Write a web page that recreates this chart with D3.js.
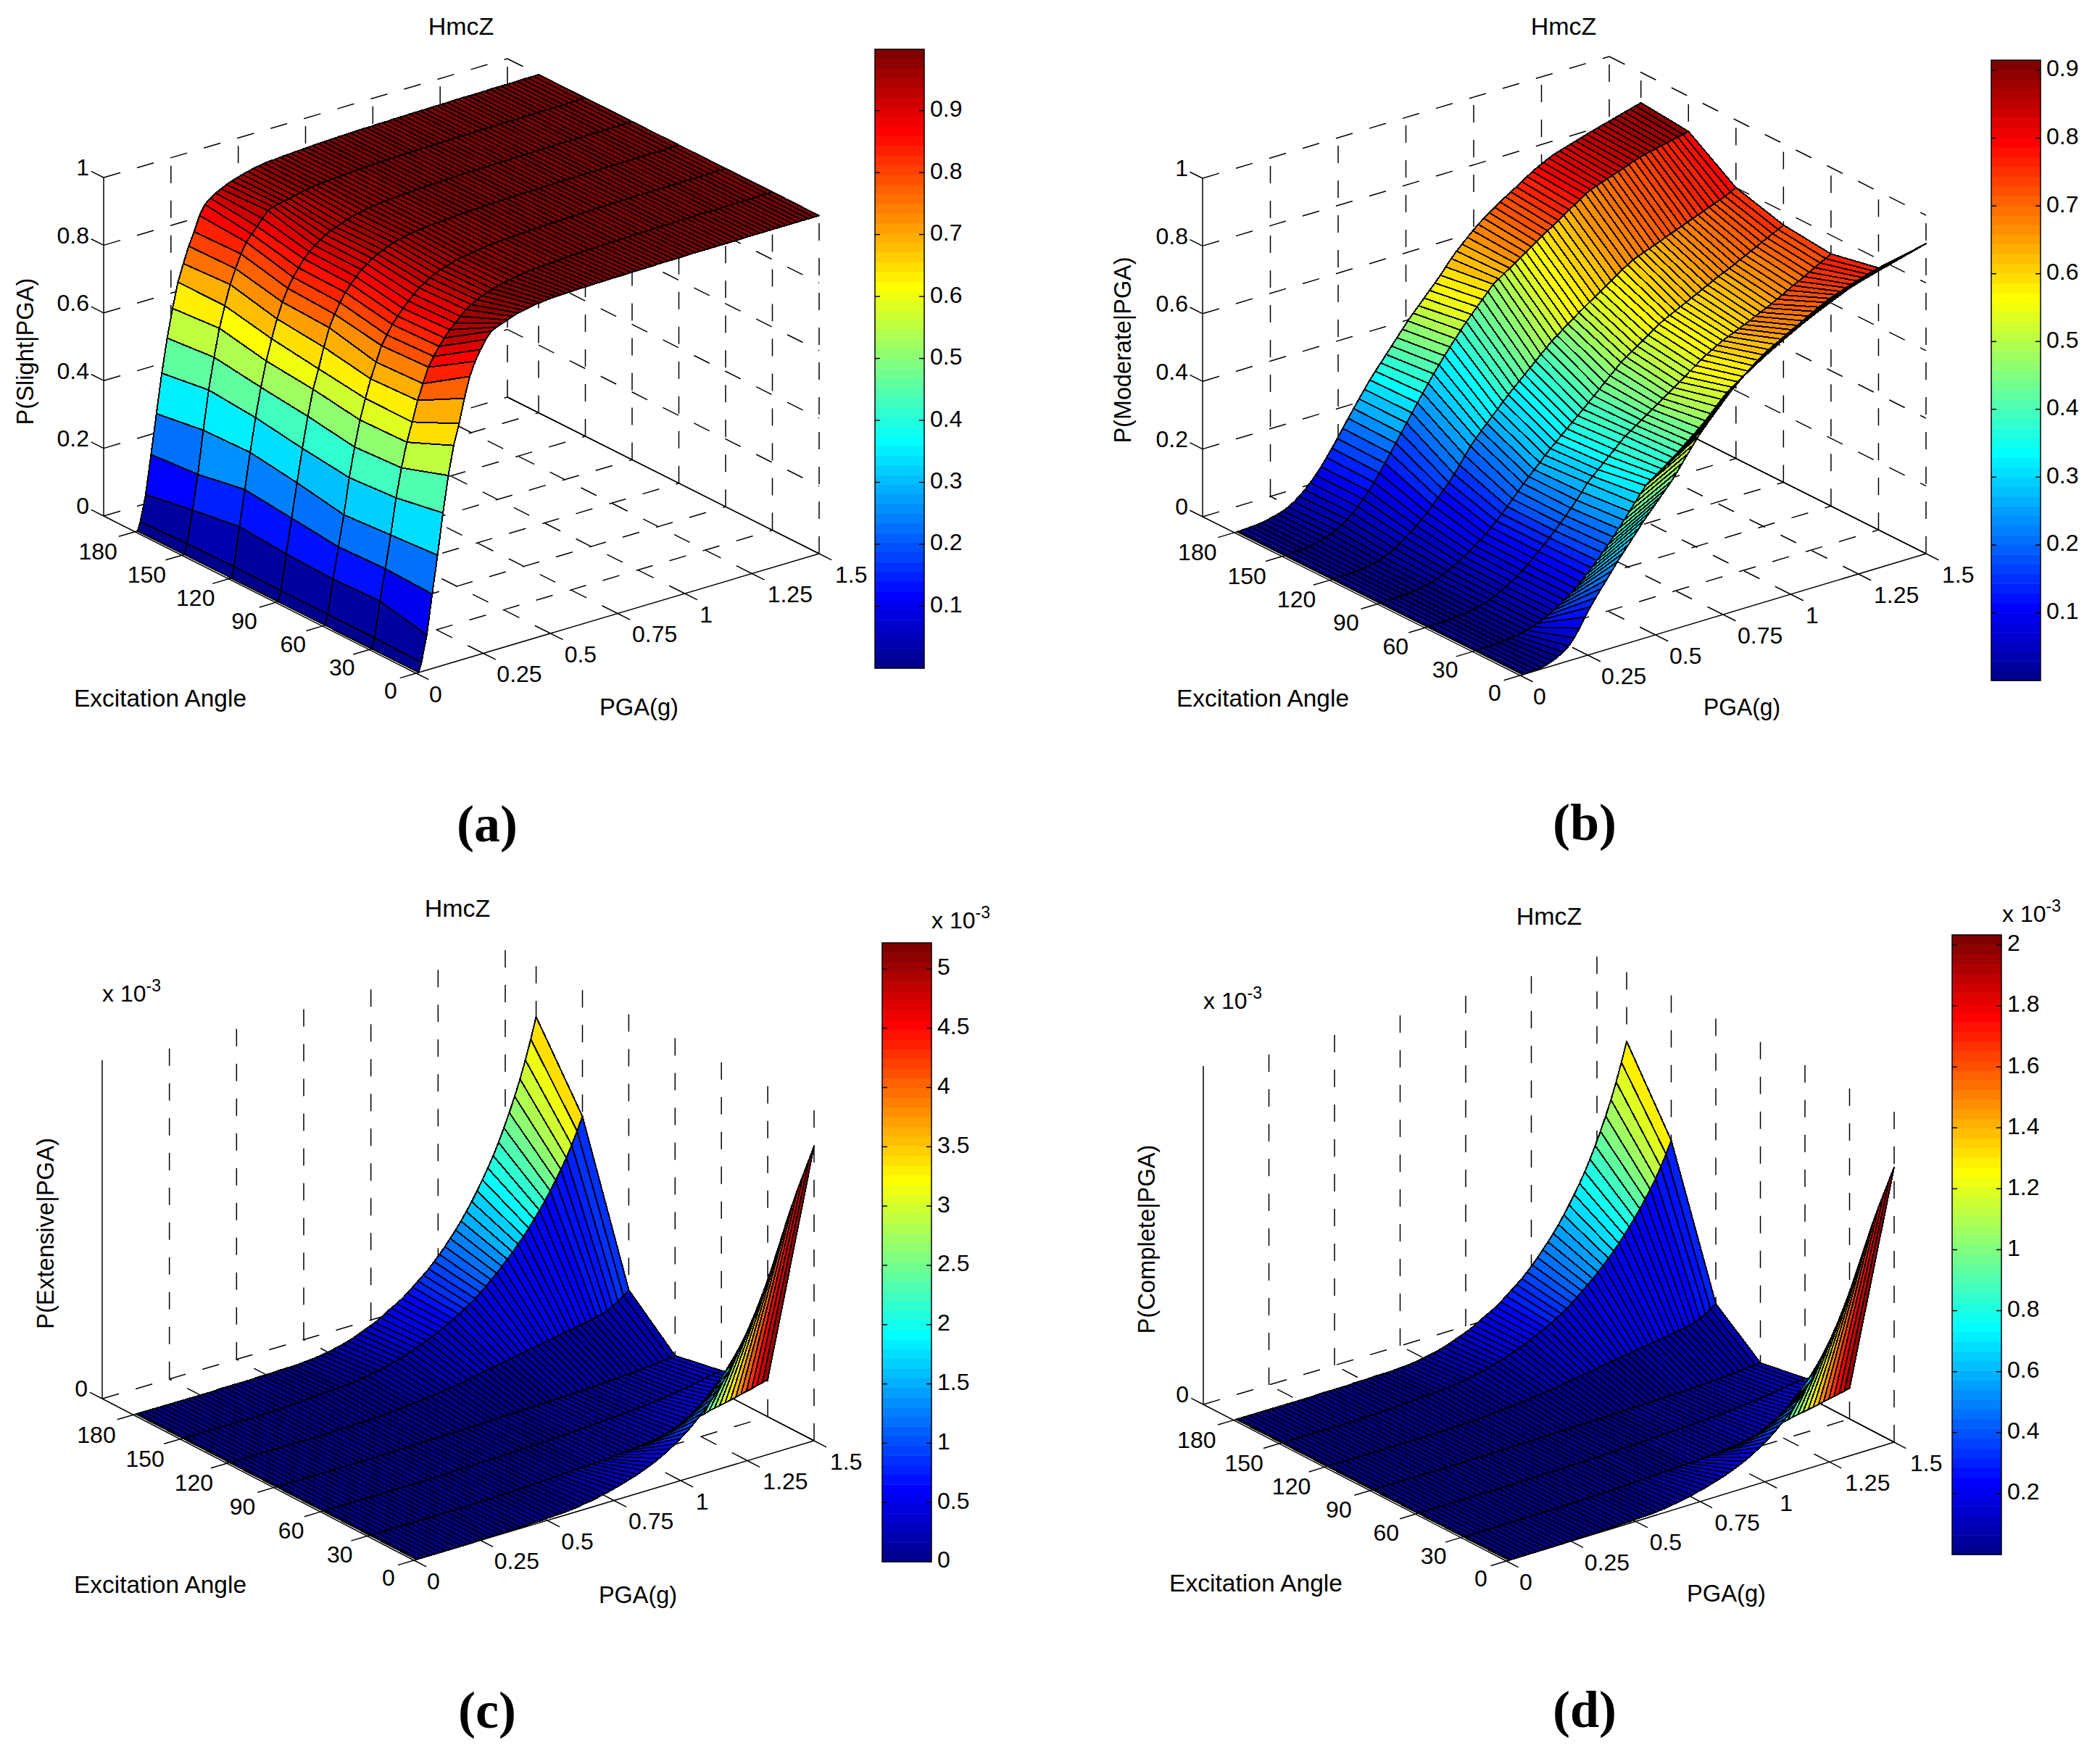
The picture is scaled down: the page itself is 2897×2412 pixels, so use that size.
<!DOCTYPE html>
<html>
<head>
<meta charset="utf-8">
<script src="https://cdn.jsdelivr.net/npm/d3@7"></script>
<style>
body { margin: 0; background: #fff; }
text { font-family: "Liberation Sans", Arial, sans-serif; fill: #000; }
</style>
</head>
<body>
<div id="chart"></div>
<script>
'use strict';

// grid of the surfaces
const pga = [0.01,0.02,0.04,0.06,0.08,0.1,0.12,0.14,0.16,0.18,
    0.2,0.22,0.24,0.26,0.28,0.3,0.32,0.34,0.36,0.38,
    0.4,0.42,0.44,0.46,0.48,0.5,0.52,0.54,0.56,0.58,
    0.6,0.62,0.64,0.66,0.68,0.7,0.72,0.74,0.76,0.78,
    0.8,0.82,0.84,0.86,0.88,0.9,0.92,0.94,0.96,0.98,
    1,1.02,1.04,1.06,1.08,1.1,1.12,1.14,1.16,1.18,
    1.2,1.22,1.24,1.26,1.28,1.3,1.32,1.34,1.36,1.38,
    1.4,1.42,1.44,1.46,1.48,1.5];
const angles = [0,30,60,90,120,150,180];

const pgaTicks = [0,0.25,0.5,0.75,1,1.25,1.5];
const angleTicks = [0,30,60,90,120,150,180];
const probTicks = [0,0.2,0.4,0.6,0.8,1];
const zeroTick = [0];

const barTicksSlight = [0.1,0.2,0.3,0.4,0.5,0.6,0.7,0.8,0.9];
const barTicksModerate = [0.1,0.2,0.3,0.4,0.5,0.6,0.7,0.8,0.9];
const barTicksExtensive = [0,0.5,1,1.5,2,2.5,3,3.5,4,4.5,5];
const barTicksComplete = [0.2,0.4,0.6,0.8,1,1.2,1.4,1.6,1.8,2];

// P(Slight|PGA), one list per excitation angle
const slight0 = [0,.027,.104,.22,.33,.45,.556,.64,.70,.77,.83,.87,.90,.925,.945,.952,.958,.964,.97,.975,.978,.981,.985,.986,.988,.99,
    .991,.991,.992,.992,.993,.993,.993,.994,.994,.994,.995,.995,.995,.995,.996,.996,.996,.996,.996,.997,.997,.997,.997,.997,
    .997,.998,.998,.998,.998,.998,.998,.998,.998,.998,.998,.999,.999,.999,.999,.999,.999,.999,.999,.999,.999,.999,.999,.999,.999,.999];
const slight1 = [0,.03,.134,.225,.32,.425,.509,.58,.635,.694,.739,.783,.81,.835,.855,.875,.89,.905,.92,.93,.94,.947,.953,.958,.963,.967,
    .97,.973,.975,.978,.98,.981,.982,.983,.984,.985,.986,.987,.988,.988,.989,.99,.99,.991,.991,.992,.992,.993,.993,.993,
    .994,.994,.994,.995,.995,.995,.995,.996,.996,.996,.996,.997,.997,.997,.997,.997,.997,.998,.998,.998,.998,.998,.998,.999,.999,.999];
const slight2 = [0,.03,.129,.22,.31,.415,.501,.576,.635,.688,.733,.777,.804,.83,.85,.868,.885,.90,.915,.925,.935,.943,.95,.955,.96,.965,
    .968,.97,.973,.975,.978,.98,.981,.982,.983,.984,.985,.986,.987,.988,.988,.989,.99,.99,.991,.991,.992,.992,.993,.993,
    .993,.994,.994,.995,.995,.995,.995,.996,.996,.996,.996,.997,.997,.997,.997,.997,.997,.998,.998,.998,.998,.998,.998,.999,.999,.999];
const slight3 = [0,.03,.134,.235,.335,.432,.522,.597,.653,.712,.765,.80,.83,.855,.875,.892,.908,.92,.932,.94,.948,.954,.96,.964,.968,.972,
    .974,.976,.978,.98,.981,.982,.983,.984,.985,.986,.987,.988,.988,.989,.99,.99,.991,.991,.992,.992,.992,.993,.993,.993,
    .994,.994,.994,.995,.995,.995,.995,.996,.996,.996,.996,.997,.997,.997,.997,.997,.997,.998,.998,.998,.998,.998,.998,.999,.999,.999];
const slight4 = [0,.032,.145,.25,.355,.453,.538,.611,.672,.726,.771,.807,.835,.858,.88,.896,.91,.922,.932,.94,.945,.952,.958,.963,.967,.971,
    .974,.976,.978,.98,.981,.982,.983,.984,.985,.986,.987,.988,.988,.989,.99,.99,.991,.991,.992,.992,.992,.993,.993,.993,
    .994,.994,.994,.995,.995,.995,.995,.996,.996,.996,.996,.997,.997,.997,.997,.997,.997,.998,.998,.998,.998,.998,.998,.999,.999,.999];
const slight5 = [0,.03,.124,.225,.351,.465,.557,.638,.70,.758,.80,.839,.869,.888,.906,.925,.944,.95,.954,.957,.96,.964,.968,.971,.974,.976,
    .978,.98,.981,.982,.983,.984,.985,.986,.987,.988,.988,.989,.99,.99,.991,.991,.992,.992,.992,.993,.993,.993,.994,.994,
    .994,.995,.995,.995,.995,.996,.996,.996,.996,.997,.997,.997,.997,.997,.997,.997,.998,.998,.998,.998,.998,.998,.999,.999,.999,.999];
const slight6 = [0,.025,.10,.214,.33,.445,.544,.627,.70,.75,.797,.835,.878,.906,.92,.93,.938,.946,.952,.957,.962,.966,.97,.973,.976,.978,
    .978,.98,.981,.982,.983,.984,.985,.986,.987,.988,.988,.989,.99,.99,.991,.991,.992,.992,.992,.993,.993,.993,.994,.994,
    .994,.995,.995,.995,.995,.996,.996,.996,.996,.997,.997,.997,.997,.997,.997,.997,.998,.998,.998,.998,.998,.998,.999,.999,.999,.999];

// P(Moderate|PGA)
const moderate0 = [0,0,.001,.002,.004,.008,.014,.022,.031,.044,.063,.087,.115,.14,.163,.185,.206,.228,.25,.27,
    .29,.31,.33,.35,.368,.386,.404,.422,.44,.462,.484,.506,.528,.55,.568,.586,.603,.62,.637,.654,
    .67,.683,.696,.709,.722,.733,.743,.752,.76,.768,.776,.783,.79,.797,.804,.811,.818,.825,.832,.839,
    .846,.853,.86,.864,.868,.872,.877,.881,.885,.89,.894,.899,.903,.907,.912,.916];
const moderate1 = [0,0,.001,.001,.002,.003,.004,.006,.008,.011,.015,.02,.026,.033,.041,.05,.06,.071,.083,.096,
    .11,.126,.142,.159,.177,.195,.214,.234,.254,.275,.296,.317,.337,.349,.361,.372,.384,.396,.408,.42,
    .431,.443,.459,.476,.492,.509,.525,.54,.551,.562,.573,.584,.595,.606,.617,.628,.639,.65,.659,.668,
    .676,.685,.694,.703,.711,.72,.727,.733,.738,.744,.749,.755,.76,.765,.77,.774];
const moderate2 = [0,0,.001,.001,.002,.003,.004,.006,.008,.011,.015,.02,.026,.033,.041,.05,.06,.071,.083,.096,
    .11,.125,.14,.156,.172,.189,.206,.224,.243,.262,.284,.299,.314,.329,.344,.359,.374,.389,.4,.411,
    .422,.433,.444,.455,.466,.478,.489,.501,.512,.524,.535,.547,.558,.567,.576,.585,.592,.599,.606,.613,
    .62,.628,.635,.643,.65,.659,.667,.676,.685,.693,.702,.71,.719,.728,.736,.745];
const moderate3 = [0,0,.001,.001,.002,.003,.004,.006,.009,.012,.016,.022,.028,.036,.044,.053,.063,.074,.086,.098,
    .111,.125,.14,.156,.173,.19,.208,.226,.242,.258,.274,.291,.306,.32,.335,.35,.364,.379,.393,.408,
    .423,.438,.453,.468,.483,.498,.509,.521,.532,.543,.555,.566,.577,.586,.594,.602,.61,.618,.626,.634,
    .642,.65,.658,.666,.673,.68,.688,.696,.704,.712,.72,.728,.736,.744,.752,.76];
const moderate4 = [0,0,.001,.001,.002,.003,.005,.007,.01,.014,.02,.027,.036,.047,.059,.07,.084,.098,.113,.13,
    .148,.165,.183,.203,.225,.248,.271,.29,.307,.324,.34,.357,.374,.39,.405,.42,.435,.45,.465,.48,
    .495,.51,.522,.534,.546,.558,.57,.581,.592,.603,.614,.625,.636,.647,.658,.668,.678,.684,.691,.697,
    .703,.709,.716,.722,.728,.734,.741,.747,.753,.759,.766,.772,.778,.784,.792,.80];
const moderate5 = [0,0,.001,.002,.003,.005,.008,.012,.017,.023,.03,.04,.052,.065,.08,.097,.116,.137,.16,.184,
    .209,.234,.259,.284,.309,.334,.358,.382,.405,.427,.449,.47,.49,.51,.53,.547,.565,.582,.60,.617,
    .628,.639,.65,.661,.672,.683,.694,.705,.716,.727,.737,.748,.759,.77,.78,.791,.802,.81,.816,.822,
    .828,.833,.839,.845,.851,.857,.862,.867,.87,.874,.878,.881,.885,.889,.892,.896];
const moderate6 = [0,0,.001,.002,.003,.005,.008,.012,.016,.021,.028,.038,.05,.064,.08,.098,.118,.14,.163,.187,
    .212,.237,.261,.285,.308,.331,.352,.372,.392,.412,.432,.452,.472,.49,.507,.525,.543,.56,.578,.598,
    .618,.635,.651,.666,.681,.695,.708,.72,.731,.742,.752,.762,.772,.783,.793,.803,.812,.82,.828,.835,
    .84,.845,.85,.855,.86,.865,.87,.874,.879,.883,.888,.892,.897,.901,.906,.91];

// P(Extensive|PGA), in units of 1e-3
const extensive0 = [0,0,0,0,0,0,0,0,0,0,0,0,.01,.01,.01,.01,.01,.01,.02,.02,
    .02,.02,.03,.03,.03,.04,.04,.05,.05,.06,.07,.08,.10,.11,.13,.15,.17,.20,.22,.25,
    .28,.31,.34,.38,.42,.46,.51,.56,.62,.68,.75,.82,.90,.99,1.08,1.18,1.29,1.41,1.53,1.68,
    1.85,2.0,2.17,2.35,2.55,2.78,3.02,3.27,3.53,3.8,4.07,4.32,4.56,4.78,5.0,5.22];
const extensive1 = [0,0,0,0,0,0,0,0,0,0,0,0,0,0,0,0,0,0,0,0,
    .01,.01,.01,.01,.02,.02,.02,.02,.03,.03,.03,.04,.04,.05,.05,.06,.06,.07,.07,.08,
    .08,.08,.09,.09,.10,.10,.11,.12,.13,.14,.15,.16,.17,.18,.19,.20,.22,.24,.26,.28,
    .31,.33,.36,.38,.41,.43,.45,.47,.49,.51,.54,.56,.58,.61,.63,.66];
const extensive2 = [0,0,0,0,0,0,0,0,0,0,0,0,0,0,0,0,0,0,0,0,
    .01,.01,.01,.01,.01,.02,.02,.02,.02,.02,.03,.03,.03,.03,.04,.04,.04,.05,.05,.05,
    .06,.06,.06,.07,.07,.08,.08,.09,.09,.10,.10,.11,.11,.12,.13,.13,.14,.15,.15,.16,
    .17,.18,.19,.20,.21,.22,.24,.25,.27,.28,.30,.32,.34,.36,.37,.39];
const extensive3 = [0,0,0,0,0,0,0,0,0,0,0,0,0,0,0,0,0,0,0,0,
    .01,.01,.01,.01,.01,.01,.01,.02,.02,.02,.02,.02,.03,.03,.03,.03,.04,.04,.04,.04,
    .05,.05,.05,.06,.06,.06,.06,.07,.07,.07,.08,.08,.08,.09,.09,.09,.10,.10,.10,.11,
    .11,.12,.12,.13,.13,.14,.15,.15,.16,.17,.18,.19,.20,.21,.22,.23];
const extensive4 = [0,0,0,0,0,0,0,0,0,0,0,0,0,0,0,0,0,0,0,0,
    .01,.01,.01,.01,.02,.02,.02,.03,.03,.03,.04,.05,.06,.07,.08,.09,.10,.11,.12,.13,
    .15,.16,.17,.19,.20,.22,.24,.26,.28,.30,.31,.33,.35,.37,.39,.41,.42,.44,.46,.48,
    .49,.51,.53,.55,.56,.58,.60,.62,.64,.66,.68,.71,.76,.82,.89,.97];
const extensive5 = [0,0,0,0,0,0,0,0,0,0,0,0,0,0,0,0,.01,.01,.01,.01,
    .02,.03,.03,.04,.05,.05,.06,.07,.07,.08,.08,.09,.10,.11,.13,.14,.16,.18,.20,.22,
    .25,.28,.31,.34,.38,.42,.46,.50,.55,.60,.65,.70,.76,.82,.88,.95,1.03,1.11,1.20,1.29,
    1.38,1.48,1.58,1.69,1.80,1.92,2.05,2.18,2.32,2.47,2.63,2.79,2.97,3.17,3.39,3.62];
const extensive6 = [0,0,0,0,0,0,0,0,0,0,0,0,0,0,0,0,.01,.01,.01,.01,
    .01,.01,.01,.02,.02,.02,.02,.03,.03,.03,.03,.04,.05,.055,.065,.08,.095,.115,.135,.16,
    .19,.22,.26,.30,.34,.38,.43,.49,.55,.60,.66,.73,.81,.89,.97,1.05,1.15,1.25,1.36,1.48,
    1.6,1.73,1.87,2.02,2.18,2.35,2.53,2.72,2.93,3.16,3.4,3.66,3.94,4.25,4.59,4.96];

// P(Complete|PGA), in units of 1e-3
const complete0 = [0,0,0,0,0,0,0,0,0,0,0,0,.004,.004,.004,.004,.004,.004,.008,.008,
    .008,.008,.012,.012,.012,.016,.016,.019,.019,.023,.027,.031,.039,.043,.051,.058,.066,.078,.086,.097,
    .109,.121,.132,.148,.163,.179,.198,.218,.241,.265,.292,.319,.35,.385,.42,.459,.502,.548,.595,.646,
    .72,.778,.844,.914,.992,1.081,1.175,1.272,1.373,1.478,1.583,1.68,1.774,1.859,1.945,2.03];
const complete1 = [0,0,0,0,0,0,0,0,0,0,0,0,0,0,0,0,0,0,0,0,
    .003,.003,.003,.003,.007,.007,.007,.007,.01,.01,.01,.014,.014,.017,.017,.021,.021,.024,.024,.028,
    .028,.028,.031,.031,.034,.034,.038,.041,.045,.048,.052,.055,.058,.062,.065,.069,.076,.083,.089,.096,
    .107,.114,.124,.131,.141,.148,.155,.162,.169,.175,.186,.193,.2,.21,.217,.227];
const complete2 = [0,0,0,0,0,0,0,0,0,0,0,0,0,0,0,0,0,0,0,0,
    .003,.003,.003,.003,.003,.007,.007,.007,.007,.007,.01,.01,.01,.01,.013,.013,.013,.017,.017,.017,
    .02,.02,.02,.023,.023,.026,.026,.03,.03,.033,.033,.036,.036,.04,.043,.043,.046,.05,.05,.053,
    .056,.059,.063,.066,.069,.073,.079,.083,.089,.092,.099,.106,.112,.119,.122,.129];
const complete3 = [0,0,0,0,0,0,0,0,0,0,0,0,0,0,0,0,0,0,0,0,
    .003,.003,.003,.003,.003,.003,.003,.006,.006,.006,.006,.006,.009,.009,.009,.009,.012,.012,.012,.012,
    .015,.015,.015,.018,.018,.018,.018,.021,.021,.021,.024,.024,.024,.027,.027,.027,.03,.03,.03,.033,
    .033,.036,.036,.039,.039,.042,.045,.045,.048,.051,.054,.057,.06,.063,.066,.07];
const complete4 = [0,0,0,0,0,0,0,0,0,0,0,0,0,0,0,0,0,0,0,0,
    .003,.003,.003,.003,.007,.007,.007,.01,.01,.01,.014,.017,.021,.024,.028,.031,.035,.038,.041,.045,
    .052,.055,.059,.066,.069,.076,.083,.09,.097,.104,.107,.114,.121,.128,.135,.141,.145,.152,.159,.166,
    .169,.176,.183,.19,.193,.2,.207,.214,.221,.228,.235,.245,.262,.283,.307,.335];
const complete5 = [0,0,0,0,0,0,0,0,0,0,0,0,0,0,0,0,.004,.004,.004,.004,
    .008,.011,.011,.015,.019,.019,.023,.026,.027,.028,.03,.034,.038,.042,.049,.053,.06,.068,.076,.083,
    .095,.106,.117,.129,.144,.159,.174,.189,.208,.227,.246,.265,.287,.31,.333,.359,.389,.42,.454,.488,
    .522,.559,.597,.639,.68,.726,.775,.824,.877,.934,.994,1.055,1.123,1.198,1.281,1.37];
const complete6 = [0,0,0,0,0,0,0,0,0,0,0,0,0,0,0,0,.004,.004,.004,.004,
    .004,.004,.004,.008,.008,.008,.008,.012,.012,.012,.012,.016,.019,.021,.025,.031,.037,.045,.053,.062,
    .074,.086,.101,.117,.132,.148,.167,.191,.214,.233,.257,.284,.315,.346,.377,.408,.447,.486,.529,.576,
    .622,.673,.727,.786,.848,.914,.984,1.058,1.14,1.229,1.323,1.424,1.533,1.653,1.786,1.93];

const panels = [
    {
        z: [slight0, slight1, slight2, slight3, slight4, slight5, slight6],
        zMax: 1, zTicks: probTicks, cMax: 0.999, barTicks: barTicksSlight,
        front: [574, 929], right: [1130, 764], left: [143, 712], back: [700, 548],
        bar: {x: 1207, y0: 68, y1: 922},
        title: [636, 39], angleLabel: [102, 238, 966], pgaLabel: [827, 109, 978],
        yLabel: 'P(Slight|PGA)', yLabelPos: [37, 485, 203],
        tag: '(a)', tagPos: [672, 1144]
    },
    {
        z: [moderate0, moderate1, moderate2, moderate3, moderate4, moderate5, moderate6],
        zMax: 1, zTicks: probTicks, cMax: 0.915, barTicks: barTicksModerate,
        front: [2097, 932], right: [2657, 764], left: [1659, 713], back: [2220, 545],
        bar: {x: 2747, y0: 83, y1: 939},
        title: [2157, 39], angleLabel: [1623, 238, 966], pgaLabel: [2350, 106, 978],
        yLabel: 'P(Moderate|PGA)', yLabelPos: [1551, 483, 257],
        tag: '(b)', tagPos: [2186, 1142]
    },
    {
        z: [extensive0, extensive1, extensive2, extensive3, extensive4, extensive5, extensive6],
        zMax: 6, zTicks: zeroTick, cMax: 5.22, barTicks: barTicksExtensive,
        front: [571, 2153], right: [1123, 1988], left: [141, 1930], back: [697, 1767],
        bar: {x: 1217, y0: 1301, y1: 2155},
        title: [631, 1256], angleLabel: [102, 238, 2189], pgaLabel: [826, 108, 2203],
        yLabel: 'P(Extensive|PGA)', yLabelPos: [65, 1702, 264],
        tag: '(c)', tagPos: [672, 2367],
        axisExp: [141, 1372], barExp: [1285, 1271]
    },
    {
        z: [complete0, complete1, complete2, complete3, complete4, complete5, complete6],
        zMax: 2.5, zTicks: zeroTick, cMax: 2.033, barTicks: barTicksComplete,
        front: [2078, 2154], right: [2613, 1990], left: [1660, 1938], back: [2203, 1776],
        bar: {x: 2693, y0: 1290, y1: 2145},
        title: [2137, 1267], angleLabel: [1613, 239, 2187], pgaLabel: [2327, 109, 2201],
        yLabel: 'P(Complete|PGA)', yLabelPos: [1584, 1710, 261],
        tag: '(d)', tagPos: [2186, 2366],
        axisExp: [1660, 1382], barExp: [2762, 1262]
    }
];

const jet = (i) => {
    const x = (i + 1) / 64;
    const c = (o) => Math.round(255 * Math.max(0, Math.min(1, 1.5 - Math.abs(4 * x - o))));
    return `rgb(${c(3)},${c(2)},${c(1)})`;
};
const jet64 = d3.range(64).map(jet);

const svg = d3.select('#chart').append('svg')
    .attr('width', 2897)
    .attr('height', 2412)
    .style('display', 'block');

const tickFont = 32;
const dash = '24 24';
const angleMax = 200; // the axis runs on past the last tick
const lineGen = d3.line();

const drawPanel = (cfg) => {
    const g = svg.append('g');
    const xScale = d3.scaleLinear().domain([0, 1.5]).range([0, 1]);
    const yScale = d3.scaleLinear().domain([0, angleMax]).range([0, 1]);
    const zScale = d3.scaleLinear().domain([0, cfg.zMax]).range([0, -467]);
    const color = d3.scaleQuantize().domain([0, cfg.cMax]).range(jet64);

    // orthographic view, floor from the four measured corners
    const project = (p, a, z) => {
        const u = xScale(p);
        const v = yScale(a);
        const bx = (k) => (1 - u) * (1 - v) * cfg.front[k] + u * (1 - v) * cfg.right[k]
            + (1 - u) * v * cfg.left[k] + u * v * cfg.back[k];
        return [bx(0), bx(1) + zScale(z)];
    };
    const seg = (a, b, dashed) => {
        g.append('path')
            .attr('d', lineGen([a, b]))
            .attr('fill', 'none')
            .attr('stroke', '#000')
            .attr('stroke-width', 1.5)
            .attr('stroke-dasharray', dashed ? dash : null);
    };

    // floor grid
    pgaTicks.forEach((p) => {
        seg(project(p, 0, 0), project(p, angleMax, 0), p > 0 && p < 1.5);
        seg(project(p, 0, 0), project(p, -8, 0), false);
    });
    angleTicks.forEach((a) => {
        seg(project(0, a, 0), project(1.5, a, 0), a > 0);
        seg(project(0, a, 0), project(-0.06, a, 0), false);
    });
    // back walls
    pgaTicks.forEach((p) => {
        seg(project(p, angleMax, 0), project(p, angleMax, cfg.zMax), p > 0);
    });
    angleTicks.forEach((a) => {
        seg(project(1.5, a, 0), project(1.5, a, cfg.zMax), true);
    });
    cfg.zTicks.forEach((z) => {
        seg(project(0, angleMax, z), project(1.5, angleMax, z), true);
        seg(project(1.5, angleMax, z), project(1.5, 0, z), z > 0);
        seg(project(0, angleMax, z), project(0, angleMax + 8, z), false);
    });

    // surface, far cells first; each cell takes the colour of its low corner
    for (let j = angles.length - 2; j >= 0; j--) {
        for (let i = pga.length - 2; i >= 0; i--) {
            const corners = [
                project(pga[i], angles[j], cfg.z[j][i]),
                project(pga[i + 1], angles[j], cfg.z[j][i + 1]),
                project(pga[i + 1], angles[j + 1], cfg.z[j + 1][i + 1]),
                project(pga[i], angles[j + 1], cfg.z[j + 1][i])
            ];
            g.append('path')
                .attr('d', lineGen(corners) + 'Z')
                .attr('fill', color(cfg.z[j][i]))
                .attr('stroke', '#000')
                .attr('stroke-width', 2)
                .attr('stroke-linejoin', 'round')
                .attr('shape-rendering', 'crispEdges');
        }
    }

    // tick labels
    cfg.zTicks.forEach((z) => {
        const pos = project(0, angleMax, z);
        g.append('text')
            .attr('x', pos[0] - 20)
            .attr('y', pos[1] - 11)
            .attr('text-anchor', 'end')
            .attr('dominant-baseline', 'middle')
            .style('font-size', tickFont + 'px')
            .text(z);
    });
    angleTicks.forEach((a) => {
        const pos = project(0, a, 0);
        const t = a / 180;
        g.append('text')
            .attr('x', pos[0] - 35 - 16 * t)
            .attr('y', pos[1] + 27 + 3 * t)
            .attr('text-anchor', 'middle')
            .attr('dominant-baseline', 'middle')
            .style('font-size', tickFont + 'px')
            .text(a);
    });
    pgaTicks.forEach((p) => {
        const pos = project(p, 0, 0);
        g.append('text')
            .attr('x', pos[0] + 18 + 4 * p / 1.5)
            .attr('y', pos[1] + 31.5)
            .attr('dominant-baseline', 'middle')
            .style('font-size', tickFont + 'px')
            .text(p);
    });

    // axis titles
    g.append('text')
        .attr('x', cfg.title[0]).attr('y', cfg.title[1])
        .attr('text-anchor', 'middle').attr('dominant-baseline', 'middle')
        .style('font-size', '34px')
        .text('HmcZ');
    g.append('text')
        .attr('x', cfg.angleLabel[0]).attr('y', cfg.angleLabel[2])
        .attr('dominant-baseline', 'middle')
        .attr('textLength', cfg.angleLabel[1]).attr('lengthAdjust', 'spacingAndGlyphs')
        .style('font-size', '34px')
        .text('Excitation Angle');
    g.append('text')
        .attr('x', cfg.pgaLabel[0]).attr('y', cfg.pgaLabel[2])
        .attr('dominant-baseline', 'middle')
        .attr('textLength', cfg.pgaLabel[1]).attr('lengthAdjust', 'spacingAndGlyphs')
        .style('font-size', '34px')
        .text('PGA(g)');
    g.append('text')
        .attr('transform', `translate(${cfg.yLabelPos[0]},${cfg.yLabelPos[1]}) rotate(-90)`)
        .attr('text-anchor', 'middle').attr('dominant-baseline', 'middle')
        .attr('textLength', cfg.yLabelPos[2]).attr('lengthAdjust', 'spacingAndGlyphs')
        .style('font-size', '34px')
        .text(cfg.yLabel);
    g.append('text')
        .attr('x', cfg.tagPos[0]).attr('y', cfg.tagPos[1])
        .attr('text-anchor', 'middle').attr('dominant-baseline', 'middle')
        .style('font-family', '"Liberation Serif", serif')
        .style('font-weight', 'bold')
        .style('font-size', '72px')
        .text(cfg.tag);

    const expLabel = (pos) => {
        const t = g.append('text')
            .attr('x', pos[0]).attr('y', pos[1] + 10)
            .style('font-size', '32px');
        t.append('tspan').text('x 10');
        t.append('tspan').attr('dy', -14).style('font-size', '23px').text('-3');
    };
    if (cfg.axisExp) {
        expLabel(cfg.axisExp);
        expLabel(cfg.barExp);
    }

    // colour bar
    const barW = 68;
    const barScale = d3.scaleLinear().domain([0, cfg.cMax]).range([cfg.bar.y1, cfg.bar.y0]);
    const levels = d3.scaleLinear().domain([0, 64]).range([0, cfg.cMax]);
    g.selectAll('.level')
        .data(jet64)
        .enter().append('rect')
        .attr('x', cfg.bar.x)
        .attr('width', barW)
        .attr('y', (d, i) => barScale(levels(i + 1)))
        .attr('height', (d, i) => barScale(levels(i)) - barScale(levels(i + 1)) + 0.5)
        .attr('fill', (d) => d);
    g.append('rect')
        .attr('x', cfg.bar.x).attr('y', cfg.bar.y0)
        .attr('width', barW).attr('height', cfg.bar.y1 - cfg.bar.y0)
        .attr('fill', 'none').attr('stroke', '#000').attr('stroke-width', 1.5);
    cfg.barTicks.forEach((v) => {
        const y = barScale(v);
        seg([cfg.bar.x, y], [cfg.bar.x + 7, y], false);
        seg([cfg.bar.x + barW - 7, y], [cfg.bar.x + barW, y], false);
        g.append('text')
            .attr('x', cfg.bar.x + barW + 8)
            .attr('y', y)
            .attr('dominant-baseline', 'middle')
            .style('font-size', tickFont + 'px')
            .text(v);
    });
};

panels.forEach((cfg) => {
    cfg.z.forEach((col, j) => {
        if (col.length !== pga.length) throw new Error(`${cfg.tag} column ${j} has ${col.length} values`);
    });
    drawPanel(cfg);
});
</script>
</body>
</html>
